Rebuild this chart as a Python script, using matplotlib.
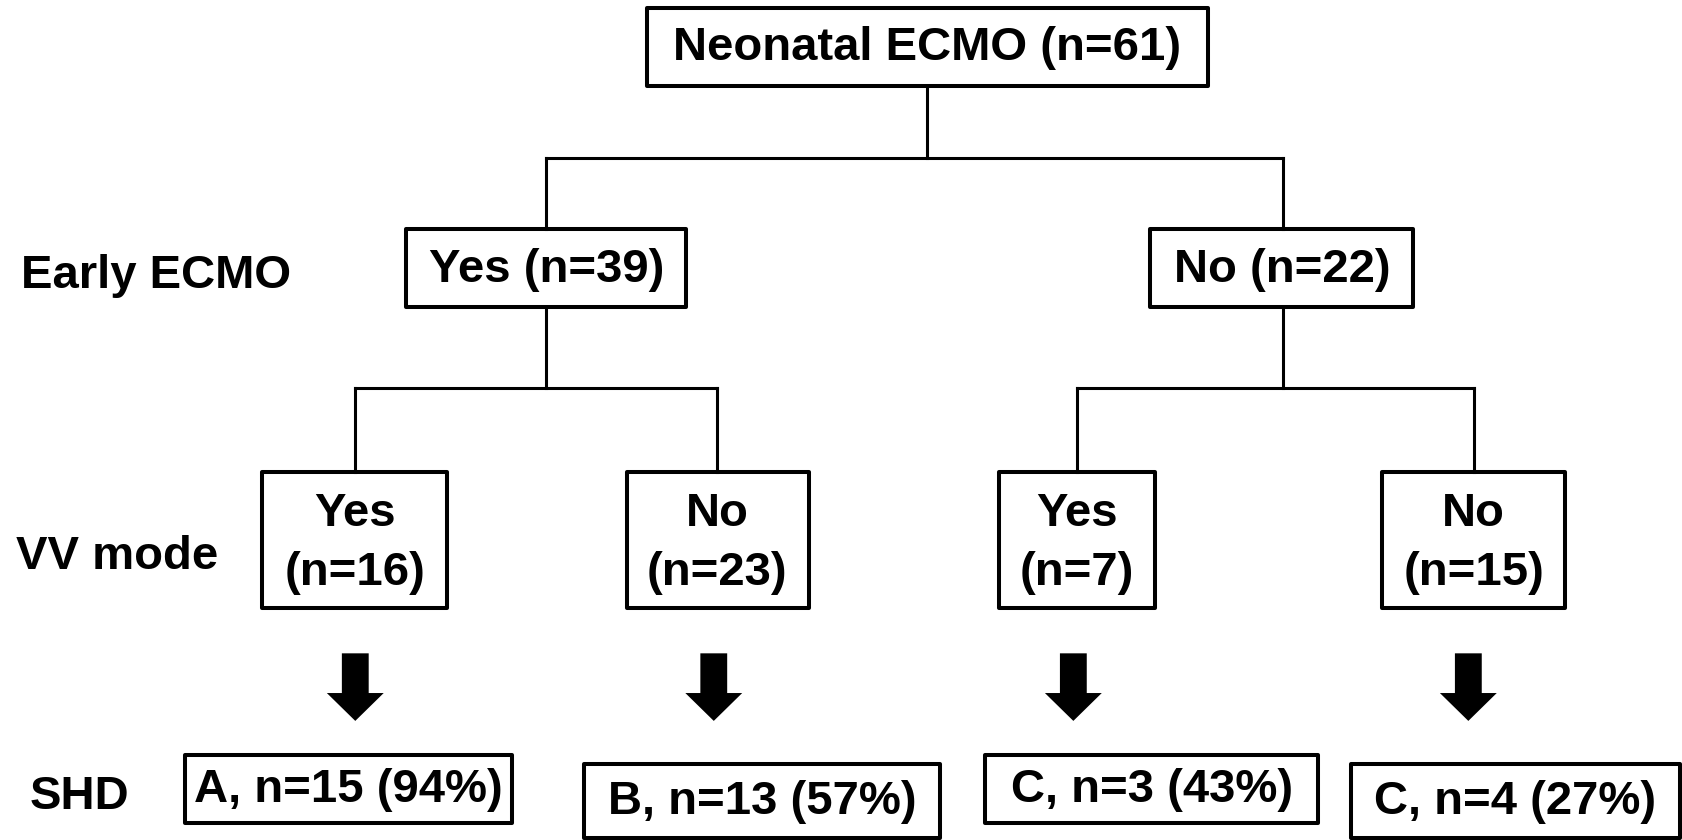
import matplotlib.pyplot as plt
from matplotlib.patches import Rectangle, FancyArrow

# tree contents
root_label = "Neonatal ECMO"
root_n = 61
early_labels = ["Yes", "No"]
early_n = [39, 22]
vv_labels = ["Yes", "No", "Yes", "No"]
vv_n = [16, 23, 7, 15]
shd_groups = ["A", "B", "C", "C"]
shd_n = [15, 13, 3, 4]
shd_pct = [94, 57, 43, 27]
row_labels = ["Early ECMO", "VV mode", "SHD"]

plt.rcParams['font.family'] = ['Liberation Sans', 'DejaVu Sans']
FS = 34
BOX_LW = 2.9
LINE_LW = 2.2

fig = plt.figure(figsize=(16.83, 8.4), dpi=100)
ax = fig.add_axes([0, 0, 1, 1])
ax.set_xlim(0, 1568)
ax.set_ylim(783, 0)
ax.axis('off')


def box(x0, y0, x1, y1):
    ax.add_patch(Rectangle((x0, y0), x1 - x0, y1 - y0, fill=False,
                           edgecolor='black', linewidth=BOX_LW, joinstyle='round'))


def txt(x, y, s, ha='center'):
    ax.text(x, y, s, ha=ha, va='center', fontsize=FS, fontweight='bold', color='black')


def line(xs, ys):
    ax.plot(xs, ys, color='black', linewidth=LINE_LW, solid_capstyle='projecting')


# root
box(603, 7, 1125, 80)
txt(864, 45, f"{root_label} (n={root_n})")
line([864, 864], [80, 147])
line([509, 1195], [147, 147])

# early ecmo level
early_x = [509, 1195]
early_boxes = [(378, 639), (1071, 1316)]
for i in range(2):
    cx = early_x[i]
    line([cx, cx], [147, 213])
    box(early_boxes[i][0], 213, early_boxes[i][1], 286)
    txt(cx, 252, f"{early_labels[i]} (n={early_n[i]})")

# vv mode level
vv_x = [331, 668, 1003, 1373]
vv_boxes = [(244, 416), (584, 754), (931, 1076), (1288, 1458)]
for i in range(2):
    px = early_x[i]
    line([px, px], [286, 362])
    line([vv_x[2 * i], vv_x[2 * i + 1]], [362, 362])
for i in range(4):
    cx = vv_x[i]
    line([cx, cx], [362, 440])
    box(vv_boxes[i][0], 440, vv_boxes[i][1], 567)
    txt(cx, 479, vv_labels[i])
    txt(cx, 534, f"(n={vv_n[i]})")

# arrows
arrow_x = [331, 665, 1000, 1368]
for cx in arrow_x:
    ax.add_patch(FancyArrow(cx, 609, 0, 63, width=25, head_width=53,
                            head_length=26, length_includes_head=True,
                            color='black', linewidth=0))

# shd level
shd_boxes = [(172, 704, 477, 767), (544, 712, 876, 781),
             (918, 704, 1228, 767), (1259, 712, 1565, 781)]
for i in range(4):
    x0, y0, x1, y1 = shd_boxes[i]
    box(x0, y0, x1, y1)
    txt((x0 + x1) / 2, (y0 + y1) / 2 + 1, f"{shd_groups[i]}, n={shd_n[i]} ({shd_pct[i]}%)")

# row labels
txt(20, 257, row_labels[0], ha='left')
txt(15, 519, row_labels[1], ha='left')
txt(28, 743, row_labels[2], ha='left')

fig.savefig('out.png', dpi=100)
